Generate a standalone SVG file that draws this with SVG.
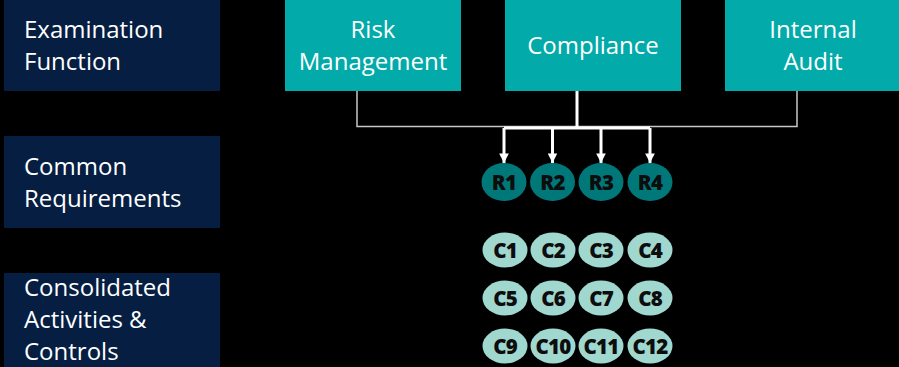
<svg xmlns="http://www.w3.org/2000/svg" width="899" height="367" viewBox="0 0 899 367">
  <style>
    .label { fill: #051e42; }
    .func { fill: #02aaa9; }
    .txt { font-family: "Open Sans", "Noto Sans", "DejaVu Sans", sans-serif; font-size: 24px; fill: #ffffff; }
    .mid { text-anchor: middle; }
    .req { fill: #00787a; }
    .ctl { fill: #a0d7cf; }
    .bub { font-family: "Open Sans", "Noto Sans", "DejaVu Sans", sans-serif; font-size: 20.5px; font-weight: 800; letter-spacing: -0.8px; fill: #0d0d0d; text-anchor: middle; }
    .thin { fill: none; stroke: #c8c8c8; stroke-width: 1.5; }
    .thick { fill: none; stroke: #ffffff; stroke-width: 3; }
  </style>
  <defs>
    <marker id="arrow" viewBox="0 0 10 10" refX="10" refY="5" markerWidth="3.4" markerHeight="3.2" orient="auto" markerUnits="strokeWidth">
      <path d="M0,0 L10,5 L0,10 Z" fill="#ffffff"/>
    </marker>
  </defs>

  <rect width="899" height="367" fill="#000000"/>

  <!-- row labels -->
  <g id="label-examination">
    <rect class="label" x="4" y="0" width="216" height="91"/>
    <text class="txt" x="24" y="38">Examination</text>
    <text class="txt" x="24" y="70">Function</text>
  </g>
  <g id="label-common">
    <rect class="label" x="4" y="136" width="216" height="92"/>
    <text class="txt" x="24" y="175">Common</text>
    <text class="txt" x="24" y="207">Requirements</text>
  </g>
  <g id="label-consolidated">
    <rect class="label" x="4" y="273" width="216" height="100"/>
    <text class="txt" x="24" y="296">Consolidated</text>
    <text class="txt" x="24" y="328">Activities &amp;</text>
    <text class="txt" x="24" y="360">Controls</text>
  </g>

  <!-- examination functions -->
  <g id="risk-management">
    <rect class="func" x="285" y="0" width="176" height="91"/>
    <text class="txt mid" x="373" y="38">Risk</text>
    <text class="txt mid" x="373" y="70">Management</text>
  </g>
  <g id="compliance">
    <rect class="func" x="505" y="0" width="176" height="91"/>
    <text class="txt mid" x="593" y="54">Compliance</text>
  </g>
  <g id="internal-audit">
    <rect class="func" x="725" y="0" width="176" height="91"/>
    <text class="txt mid" x="813" y="38">Internal</text>
    <text class="txt mid" x="813" y="70">Audit</text>
  </g>

  <!-- connectors -->
  <g id="connectors">
    <path class="thin" d="M357,91 V126.5 H797 V91"/>
    <path class="thick" d="M577,91 V128"/>
    <path class="thick" d="M504,128 H650"/>
    <path class="thick" d="M504,128 V163" marker-end="url(#arrow)"/>
    <path class="thick" d="M552.5,128 V163" marker-end="url(#arrow)"/>
    <path class="thick" d="M601,128 V163" marker-end="url(#arrow)"/>
    <path class="thick" d="M650,128 V163" marker-end="url(#arrow)"/>
  </g>

  <!-- common requirements -->
  <g id="R1"><ellipse class="req" cx="504" cy="182" rx="22.5" ry="19"/><text class="bub" x="504" y="189.5">R1</text></g>
  <g id="R2"><ellipse class="req" cx="552.5" cy="182" rx="22.5" ry="19"/><text class="bub" x="552.5" y="189.5">R2</text></g>
  <g id="R3"><ellipse class="req" cx="601" cy="182" rx="22.5" ry="19"/><text class="bub" x="601" y="189.5">R3</text></g>
  <g id="R4"><ellipse class="req" cx="650" cy="182" rx="22.5" ry="19"/><text class="bub" x="650" y="189.5">R4</text></g>

  <!-- consolidated activities and controls -->
  <g id="C1"><ellipse class="ctl" cx="505" cy="250" rx="22.5" ry="17.5"/><text class="bub" x="505" y="257.5">C1</text></g>
  <g id="C2"><ellipse class="ctl" cx="553" cy="250" rx="22.5" ry="17.5"/><text class="bub" x="553" y="257.5">C2</text></g>
  <g id="C3"><ellipse class="ctl" cx="601" cy="250" rx="22.5" ry="17.5"/><text class="bub" x="601" y="257.5">C3</text></g>
  <g id="C4"><ellipse class="ctl" cx="650" cy="250" rx="22.5" ry="17.5"/><text class="bub" x="650" y="257.5">C4</text></g>
  <g id="C5"><ellipse class="ctl" cx="505" cy="298" rx="22.5" ry="17.5"/><text class="bub" x="505" y="305.5">C5</text></g>
  <g id="C6"><ellipse class="ctl" cx="553" cy="298" rx="22.5" ry="17.5"/><text class="bub" x="553" y="305.5">C6</text></g>
  <g id="C7"><ellipse class="ctl" cx="601" cy="298" rx="22.5" ry="17.5"/><text class="bub" x="601" y="305.5">C7</text></g>
  <g id="C8"><ellipse class="ctl" cx="650" cy="298" rx="22.5" ry="17.5"/><text class="bub" x="650" y="305.5">C8</text></g>
  <g id="C9"><ellipse class="ctl" cx="505" cy="346" rx="22.5" ry="17.5"/><text class="bub" x="505" y="353.5">C9</text></g>
  <g id="C10"><ellipse class="ctl" cx="553" cy="346" rx="22.5" ry="17.5"/><text class="bub" x="553" y="353.5">C10</text></g>
  <g id="C11"><ellipse class="ctl" cx="601" cy="346" rx="22.5" ry="17.5"/><text class="bub" x="601" y="353.5">C11</text></g>
  <g id="C12"><ellipse class="ctl" cx="650" cy="346" rx="22.5" ry="17.5"/><text class="bub" x="650" y="353.5">C12</text></g>
</svg>
